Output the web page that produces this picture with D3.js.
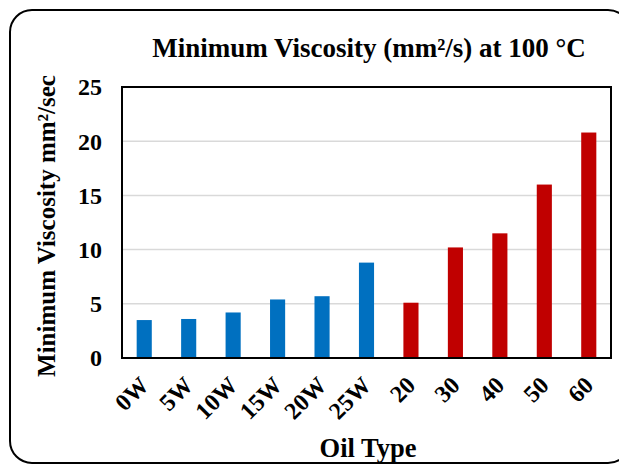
<!DOCTYPE html>
<html><head><meta charset="utf-8">
<script src="https://cdn.jsdelivr.net/npm/d3@7"></script>
<style>body{margin:0;background:#fff}svg{display:block}</style>
</head><body>
<svg id="c" width="619" height="465"></svg>
<script>
const categories = ["0W","5W","10W","15W","20W","25W","20","30","40","50","60"];
const values = [3.5, 3.6, 4.2, 5.4, 5.7, 8.8, 5.1, 10.2, 11.5, 16.0, 20.8];
const groups = ["W","W","W","W","W","W","S","S","S","S","S"];
const yTicks = [0, 5, 10, 15, 20, 25];
const colors = {W: "#0070C0", S: "#C00000"};

const svg = d3.select("#c");
const font = "'Liberation Serif','Times New Roman',serif";
const m = {left: 122, top: 87, right: 611, bottom: 358};

svg.append("rect").attr("x", 10).attr("y", 10).attr("width", 620).attr("height", 453)
  .attr("rx", 22).attr("fill", "#fff").attr("stroke", "#000").attr("stroke-width", 2);

const x = d3.scaleBand().domain(categories).range([m.left, m.right]).paddingInner(0.66).paddingOuter(0.33);
const y = d3.scaleLinear().domain([0, 25]).range([m.bottom, m.top]);

// gridlines
svg.append("g").selectAll("line").data(yTicks.filter(t => t > 0 && t < 25)).join("line")
  .attr("x1", m.left).attr("x2", m.right)
  .attr("y1", d => y(d)).attr("y2", d => y(d))
  .attr("stroke", "#d9d9d9").attr("stroke-width", 1.5);

// bars
svg.append("g").selectAll("rect").data(categories).join("rect")
  .attr("x", d => x(d)).attr("width", x.bandwidth())
  .attr("y", (d, i) => y(values[i])).attr("height", (d, i) => y(0) - y(values[i]))
  .attr("fill", (d, i) => colors[groups[i]]);

// plot frame
svg.append("rect").attr("x", m.left).attr("y", m.top)
  .attr("width", m.right - m.left).attr("height", m.bottom - m.top)
  .attr("fill", "none").attr("stroke", "#000").attr("stroke-width", 2);

// y axis
const yAxis = d3.axisLeft(y).tickValues(yTicks).tickSize(0).tickPadding(0);
const gy = svg.append("g").attr("transform", `translate(${m.left - 20},0)`).call(yAxis);
gy.select(".domain").remove();
gy.selectAll("text").attr("font-family", font).attr("font-weight", "bold")
  .attr("font-size", 24).attr("fill", "#000").attr("dy", "0.33em");

// x axis
const xAxis = d3.axisBottom(x).tickSize(0).tickPadding(0);
const gx = svg.append("g").attr("transform", `translate(0,${m.bottom})`).call(xAxis);
gx.select(".domain").remove();
gx.selectAll("text").attr("font-family", font).attr("font-weight", "bold")
  .attr("font-size", 24).attr("fill", "#000")
  .attr("text-anchor", "end").attr("dy", null).attr("y", null)
  .attr("transform", "translate(2,25) rotate(-45)")
  .attr("dominant-baseline", "middle");

// titles
svg.append("text").attr("x", 369).attr("y", 57).attr("text-anchor", "middle")
  .attr("font-family", font).attr("font-weight", "bold").attr("font-size", 27)
  .text("Minimum Viscosity (mm²/s) at 100 °C");
svg.append("text").attr("x", 368).attr("y", 457).attr("text-anchor", "middle")
  .attr("font-family", font).attr("font-weight", "bold").attr("font-size", 26.5)
  .text("Oil Type");
svg.append("text").attr("transform", "translate(55,226) rotate(-90)").attr("text-anchor", "middle")
  .attr("font-family", font).attr("font-weight", "bold").attr("font-size", 25)
  .text("Minimum Viscosity mm²/sec");
</script>
</body></html>
